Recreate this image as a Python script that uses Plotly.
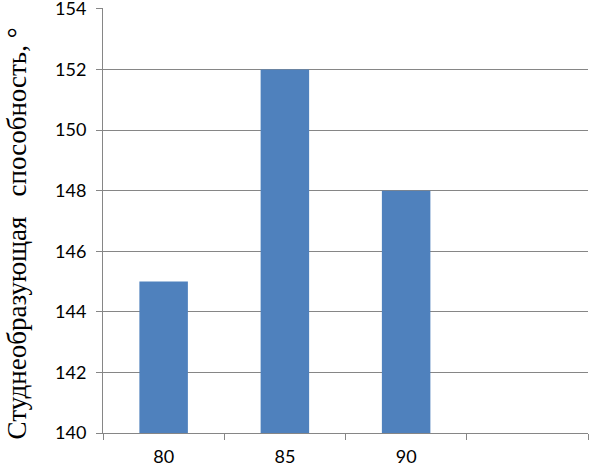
import plotly.graph_objects as go

# Data
categories = ["80", "85", "90", " "]
values = [145, 152, 148, None]
y_ticks = [140, 142, 144, 146, 148, 150, 152, 154]

bar_color = "#4F81BD"
axis_color = "#868686"
tick_font = dict(family="Lato", size=18, color="#000000")

fig = go.Figure()

fig.add_trace(go.Bar(
    x=categories,
    y=values,
    marker=dict(color=bar_color, line=dict(width=0)),
    width=0.4,
    showlegend=False
))

fig.update_layout(
    width=589,
    height=468,
    margin=dict(l=103, r=1, t=8, b=35, autoexpand=False),
    paper_bgcolor="white",
    plot_bgcolor="white",
    xaxis=dict(
        type="category",
        categoryorder="array",
        categoryarray=categories,
        automargin=False,
        showline=True,
        linecolor=axis_color,
        linewidth=1,
        ticks="outside",
        tickson="boundaries",
        ticklen=6,
        tickcolor=axis_color,
        tickfont=tick_font,
        ticklabelstandoff=7,
        showgrid=False,
        zeroline=False
    ),
    yaxis=dict(
        range=[140, 154.03],
        tickvals=y_ticks,
        automargin=False,
        showline=True,
        linecolor=axis_color,
        linewidth=1,
        ticks="outside",
        ticklen=6,
        tickcolor=axis_color,
        tickfont=tick_font,
        ticklabeloverflow="allow",
        ticklabelstandoff=6,
        showgrid=True,
        gridcolor=axis_color,
        gridwidth=1,
        zeroline=False
    )
)

# Y-axis title, placed as an annotation to match the original offset
fig.add_annotation(
    text="Студнеобразующая   способность, °",
    textangle=-90,
    xref="paper", yref="paper",
    x=-0.177, y=0.47,
    xanchor="center", yanchor="middle",
    showarrow=False,
    font=dict(family="Liberation Serif", size=27, color="#000000")
)

# drop the default page margin so the figure sits at the window's corner
fig.write_html(
    "out.html",
    config={"displayModeBar": False},
    post_script="document.body.style.margin='0';document.body.style.overflow='hidden';"
)
